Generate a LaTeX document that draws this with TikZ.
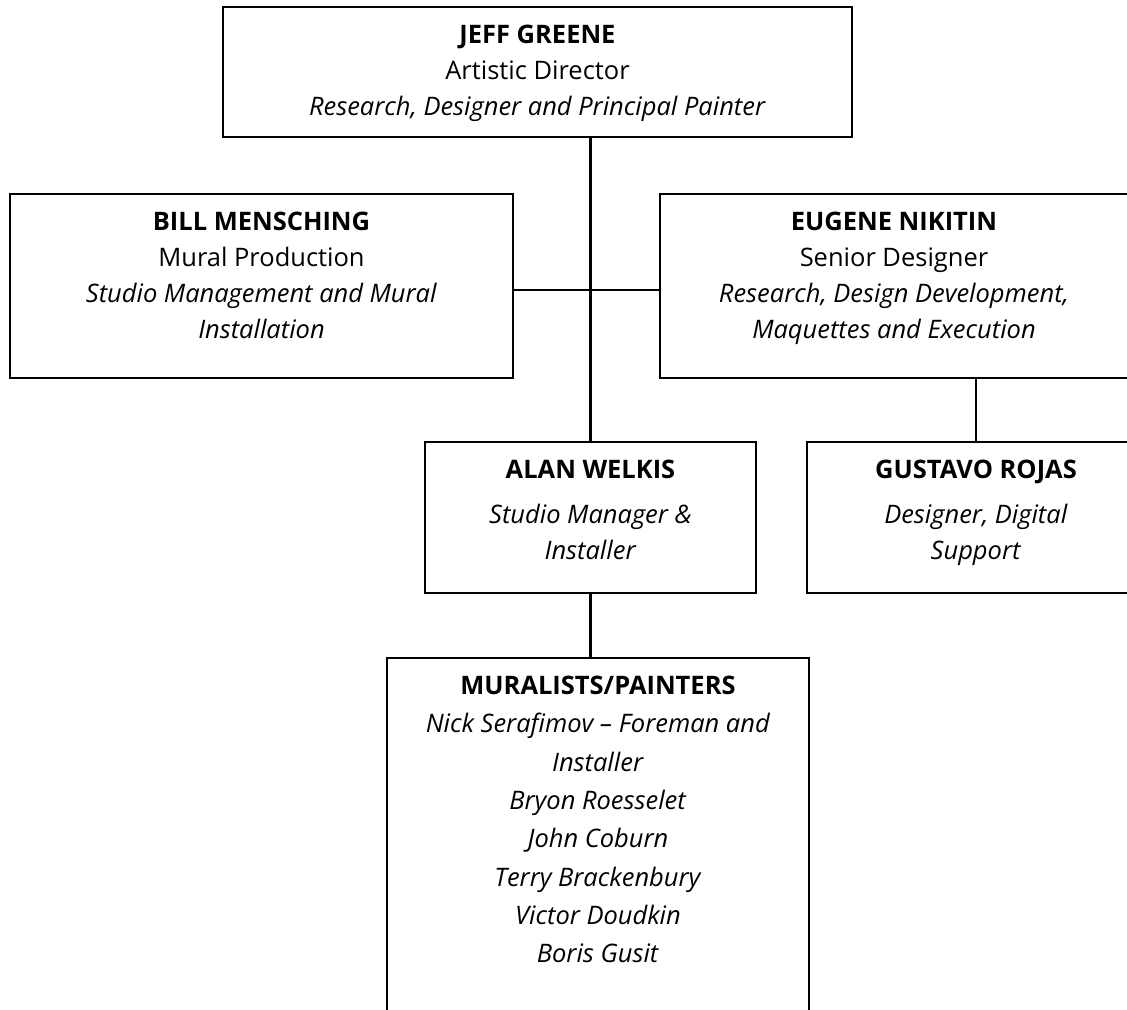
\documentclass[tikz,border=0pt]{standalone}
\usepackage{fontspec}
\setmainfont{Open Sans}
\usepackage{tikz}

\begin{document}
\begin{tikzpicture}[x=0.02cm, y=-0.02cm,
	box/.style={draw, line width=1.5pt, rectangle, inner sep=0pt},
	txt/.style={anchor=north, align=center, inner sep=0pt,
		font=\fontsize{14.5}{20.5}\selectfont},
	link/.style={line width=1.5pt}]
\useasboundingbox (0,0) rectangle (1127,1009);
\clip (0,0) rectangle (1127,1009);
% boxes, sized in pixels of the sheet
\node[box, minimum width=629*0.02cm, minimum height=130*0.02cm] (jeff) at (537.5,72) {};
\node[box, minimum width=503*0.02cm, minimum height=184*0.02cm] (bill) at (261.5,286) {};
\node[box, minimum width=468*0.02cm, minimum height=184*0.02cm] (eugene) at (894,286) {};
\node[box, minimum width=331*0.02cm, minimum height=151*0.02cm] (alan) at (590.5,517.5) {};
\node[box, minimum width=338*0.02cm, minimum height=151*0.02cm] (gustavo) at (976,517.5) {};
\node[box, minimum width=422*0.02cm, minimum height=390*0.02cm] (murals) at (598,853) {};
% texts
\node[txt] (jefftxt) at ([yshift=-19*0.02cm]jeff.north) {\textbf{JEFF GREENE}\\Artistic Director\\\textit{Research, Designer and Principal Painter}};
\node[txt] (billtxt) at ([yshift=-19*0.02cm]bill.north) {\textbf{BILL MENSCHING}\\Mural Production\\\textit{Studio Management and Mural}\\\textit{Installation}};
\node[txt] (eugenetxt) at ([yshift=-19*0.02cm]eugene.north) {\textbf{EUGENE NIKITIN}\\Senior Designer\\\textit{Research, Design Development,}\\\textit{Maquettes and Execution}};
\node[txt] (alantxt) at ([yshift=-19*0.02cm]alan.north) {\textbf{ALAN WELKIS}\\[5pt]\textit{Studio Manager \&}\\\textit{Installer}};
\node[txt] (gustavotxt) at ([yshift=-19*0.02cm]gustavo.north) {\textbf{GUSTAVO ROJAS}\\[5pt]\textit{Designer, Digital}\\\textit{Support}};
\node[txt, font=\fontsize{14.5}{21.8}\selectfont] (muralstxt) at ([yshift=-19*0.02cm]murals.north) {\textbf{MURALISTS/PAINTERS}\\\textit{Nick Serafimov -- Foreman and}\\\textit{Installer}\\\textit{Bryon Roesselet}\\\textit{John Coburn}\\\textit{Terry Brackenbury}\\\textit{Victor Doudkin}\\\textit{Boris Gusit}};
% connectors
\draw[link] (jeff.south -| alan.north) -- (alan.north);
\draw[link] ([yshift=-4*0.02cm]bill.east) -- ([yshift=-4*0.02cm]eugene.west);
\draw[link] (alan.south) -- (alan.south |- murals.north);
\draw[link] (gustavo.north) -- (gustavo.north |- eugene.south);
\end{tikzpicture}
\end{document}
